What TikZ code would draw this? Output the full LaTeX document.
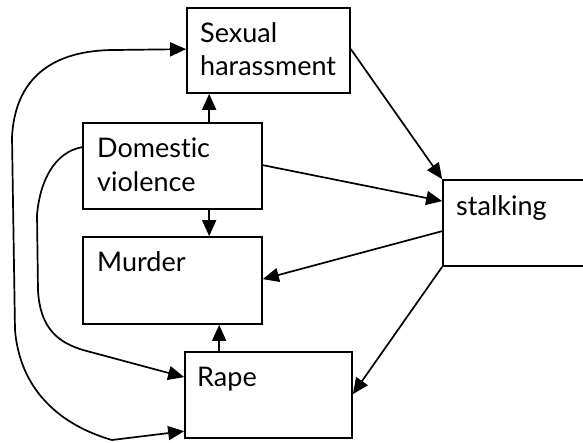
\documentclass[tikz,border=0pt]{standalone}
\usepackage{fontspec}
\setmainfont{Lato}[Ligatures=CommonOff]
\usetikzlibrary{arrows.meta}
\begin{document}
\begin{tikzpicture}[x=1pt,y=-1pt,
 box/.style={draw, line width=1.7pt, inner sep=0pt},
 lbl/.style={anchor=base west, inner sep=0pt, font=\fontsize{27}{33}\selectfont},
 arr/.style={-{Triangle[length=16pt,width=14pt]}, line width=1.7pt}]
\useasboundingbox (0,0) rectangle (583,443);
\fill[white] (0,0) rectangle (583,443);
\node[box, minimum width=163pt, minimum height=85pt] (sh) at (268.5,50.5) {};
\node[box, minimum width=179pt, minimum height=86pt] (dv) at (172.5,166) {};
\node[box, minimum width=179pt, minimum height=87pt] (mu) at (172.5,280.5) {};
\node[box, minimum width=167pt, minimum height=86pt] (ra) at (268.5,395) {};
\node[box, minimum width=147pt, minimum height=86pt] (st) at (516.5,223) {};
\node[lbl] (t1) at (200,43) {Sexual};
\node[lbl] (t2) at (200,76) {harassment};
\node[lbl] (t3) at (97,158) {Domestic};
\node[lbl] (t4) at (97,192) {violence};
\node[lbl] (t5) at (97,272) {Murder};
\node[lbl] (t6) at (197,386) {Rape};
\node[lbl] (t7) at (456,216) {stalking};
\draw[arr] ([xshift=127pt]dv.north west) -- ([xshift=127pt]dv.north west |- sh.south);
\draw[arr] ([xshift=127pt]dv.south west) -- ([xshift=127pt]dv.south west |- mu.north);
\draw[arr] ([xshift=35pt]ra.north west) -- ([xshift=35pt]ra.north west |- mu.south);
\draw[arr] ([yshift=-42pt]sh.north east) -- (st.north west);
\draw[arr] ([yshift=-43pt]dv.north east) -- ([yshift=-22pt]st.north west);
\draw[arr] ([yshift=-52pt]st.north west) -- ([yshift=-43pt]mu.north east);
\draw[arr] (st.south west) -- ([yshift=-43pt]ra.north east);
\draw[arr] ([yshift=-25pt]dv.north west) .. controls (55,152) and (40,180) .. (37,215) -- (38,290) .. controls (40,330) and (60,343) .. (83,350) -- ([yshift=-26pt]ra.north west);
\draw[arr, {Triangle[length=16pt,width=14pt]}-{Triangle[length=16pt,width=14pt]}] ([yshift=-80pt]ra.north west) -- (112,440) .. controls (60,425) and (20,390) .. (15,330) -- (12,137) .. controls (15,80) and (50,50) .. (115,50) -- ([yshift=-42pt]sh.north west);
\end{tikzpicture}
\end{document}
